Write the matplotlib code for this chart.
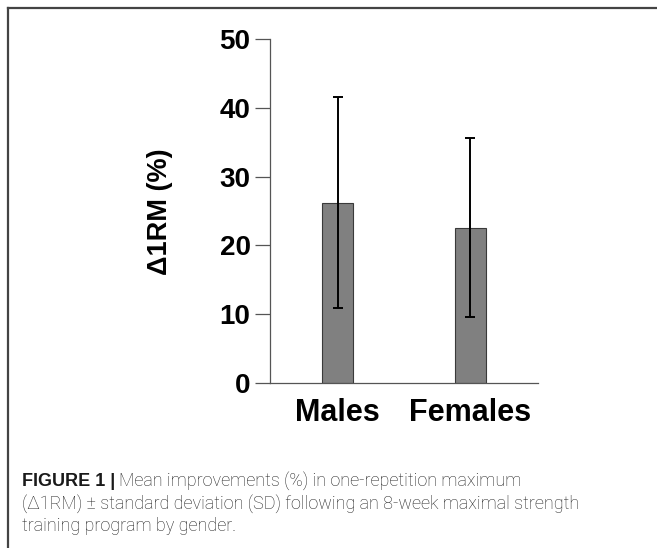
import matplotlib
matplotlib.use("Agg")
import matplotlib.pyplot as plt
from matplotlib.lines import Line2D

# data
groups = ["Males", "Females"]
mean_change = [26.2, 22.6]   # delta 1RM (%)
sd_change = [15.3, 13.0]
y_ticks = [0, 10, 20, 30, 40, 50]

fig = plt.figure(figsize=(6.57, 5.48), dpi=100)
W, H = 657, 548

# panel frame (top and left edge only)
fig.add_artist(Line2D([8 / W, 1.0], [1 - 8 / H, 1 - 8 / H], color="#444444", lw=1.6))
fig.add_artist(Line2D([8 / W, 8 / W], [0.0, 1 - 8 / H], color="#444444", lw=1.6))

ax = fig.add_axes([270 / W, 1 - 383 / H, (538 - 270) / W, (383 - 39) / H])
x = list(range(len(groups)))
ax.bar(x, mean_change, width=0.233, color="#808080", edgecolor="#3a3a3a", linewidth=0.8,
       yerr=sd_change, error_kw=dict(ecolor="black", elinewidth=1.4, capsize=3.5, capthick=1.4))

ax.set_xlim(-0.508, 1.508)
ax.set_ylim(0, 50)
ax.set_yticks(y_ticks)
ax.set_xticks(x)
ax.set_xticklabels(groups, fontsize=22, fontweight="bold", family="Liberation Sans")
for lab in ax.get_yticklabels():
    lab.set_fontsize(20)
    lab.set_fontweight("bold")
    lab.set_family("Liberation Sans")
ax.tick_params(axis="y", length=11, width=0.9, color="#555555", pad=3)
ax.tick_params(axis="x", length=0, pad=11)
for s in ["top", "right"]:
    ax.spines[s].set_visible(False)
for s in ["left", "bottom"]:
    ax.spines[s].set_color("#555555")
    ax.spines[s].set_linewidth(0.9)

fig.text(160 / W, 1 - 212 / H, "\u03941RM (%)", rotation=90, ha="center", va="center",
         fontsize=19.5, fontweight="bold", family="Liberation Sans")

# caption
cap_col = "#222222"
fs = 13
fig.canvas.draw()
t0 = fig.text(22 / W, 1 - 481 / H, "FIGURE 1 |", fontsize=fs, fontweight="bold",
              family="Liberation Sans", color="#1a1a1a", va="center")
bb = t0.get_window_extent(fig.canvas.get_renderer())
fig.text((bb.x1 + 4) / W, 1 - 481 / H, "Mean improvements (%) in one-repetition maximum",
         fontsize=fs, family="Roboto", fontweight="light", color=cap_col, va="center")
fig.text(22 / W, 1 - 503.5 / H,
         "(\u03941RM) \u00b1 standard deviation (SD) following an 8-week maximal strength",
         fontsize=fs, family="Roboto", fontweight="light", color=cap_col, va="center")
fig.text(22 / W, 1 - 526 / H, "training program by gender.",
         fontsize=fs, family="Roboto", fontweight="light", color=cap_col, va="center")

fig.savefig("out.png", dpi=100)
